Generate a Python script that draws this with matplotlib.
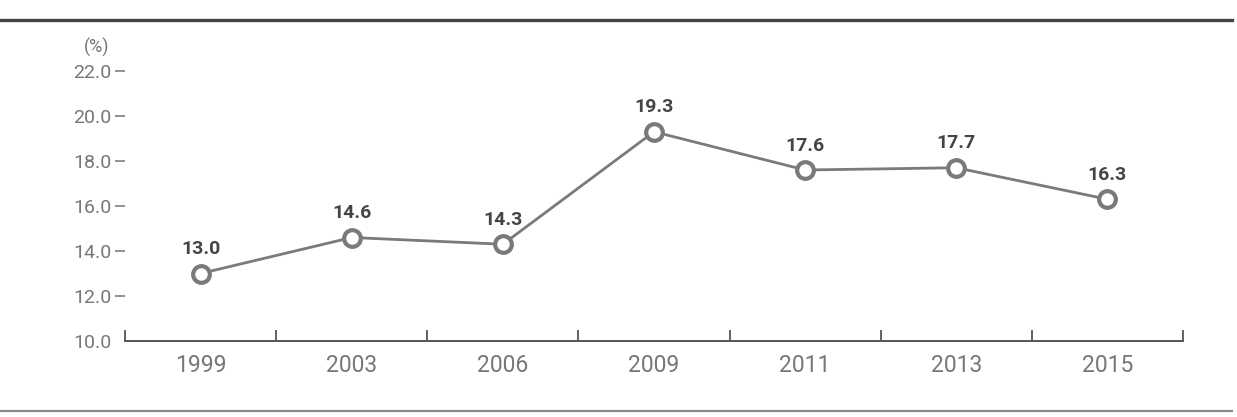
import matplotlib
matplotlib.use("Agg")
import matplotlib.pyplot as plt
from matplotlib.lines import Line2D

years = ["1999", "2003", "2006", "2009", "2011", "2013", "2015"]
values = [13.0, 14.6, 14.3, 19.3, 17.6, 17.7, 16.3]
yticks = [10.0, 12.0, 14.0, 16.0, 18.0, 20.0, 22.0]
unit_label = "(%)"

plt.rcParams['font.family'] = ['Roboto', 'DejaVu Sans']

W, H = 1237, 417
fig = plt.figure(figsize=(W / 100, H / 100), dpi=100)
ax = fig.add_axes([125 / W, (H - 341) / H, (1183 - 125) / W, (341 - 71) / H])

x = list(range(len(years)))
line_col = "#7a7a7a"
ax.plot(x, values, color=line_col, lw=2.0, zorder=2)
ax.plot(x, values, 'o', ms=12, mfc='white', mec=line_col, mew=3.0, zorder=3)

for xi, v in zip(x, values):
    ax.annotate(f"{v:.1f}", (xi, v), xytext=(0, 11), textcoords='offset points',
                ha='center', va='bottom', fontsize=14, fontweight='bold', color='#444444')

ax.set_xlim(-0.5, len(years) - 0.5)
ax.set_ylim(yticks[0], yticks[-1])

# x axis
ax.set_xticks(x)
ax.set_xticklabels(years)
ax.tick_params(axis='x', which='major', length=0, pad=9, labelsize=16.5, labelcolor='#777777')
ax.set_xticks([i - 0.5 for i in range(len(years) + 1)], minor=True)
ax.tick_params(axis='x', which='minor', direction='in', length=8, width=1.3, color='#555555')

# y axis
ax.set_yticks(yticks)
ax.set_yticklabels([f"{t:.1f}" for t in yticks])
ax.tick_params(axis='y', which='major', direction='out', length=7, width=1.3,
               color='#888888', pad=3, labelsize=14, labelcolor='#777777')
ax.yaxis.get_major_ticks()[0].tick1line.set_visible(False)

for s in ['top', 'right', 'left']:
    ax.spines[s].set_visible(False)
ax.spines['bottom'].set_color('#555555')
ax.spines['bottom'].set_linewidth(1.4)

fig.text(97 / W, 1 - 47 / H, unit_label, ha='center', va='center', fontsize=13, color='#777777')

fig.add_artist(Line2D([0, 1232 / W], [1 - 20 / H, 1 - 20 / H], color='#444444', lw=2.4,
                      transform=fig.transFigure))
fig.add_artist(Line2D([0, 1232 / W], [1 - 411 / H, 1 - 411 / H], color='#8a8a8a', lw=1.6,
                      transform=fig.transFigure))

fig.savefig("out.png", dpi=100, facecolor='white')
